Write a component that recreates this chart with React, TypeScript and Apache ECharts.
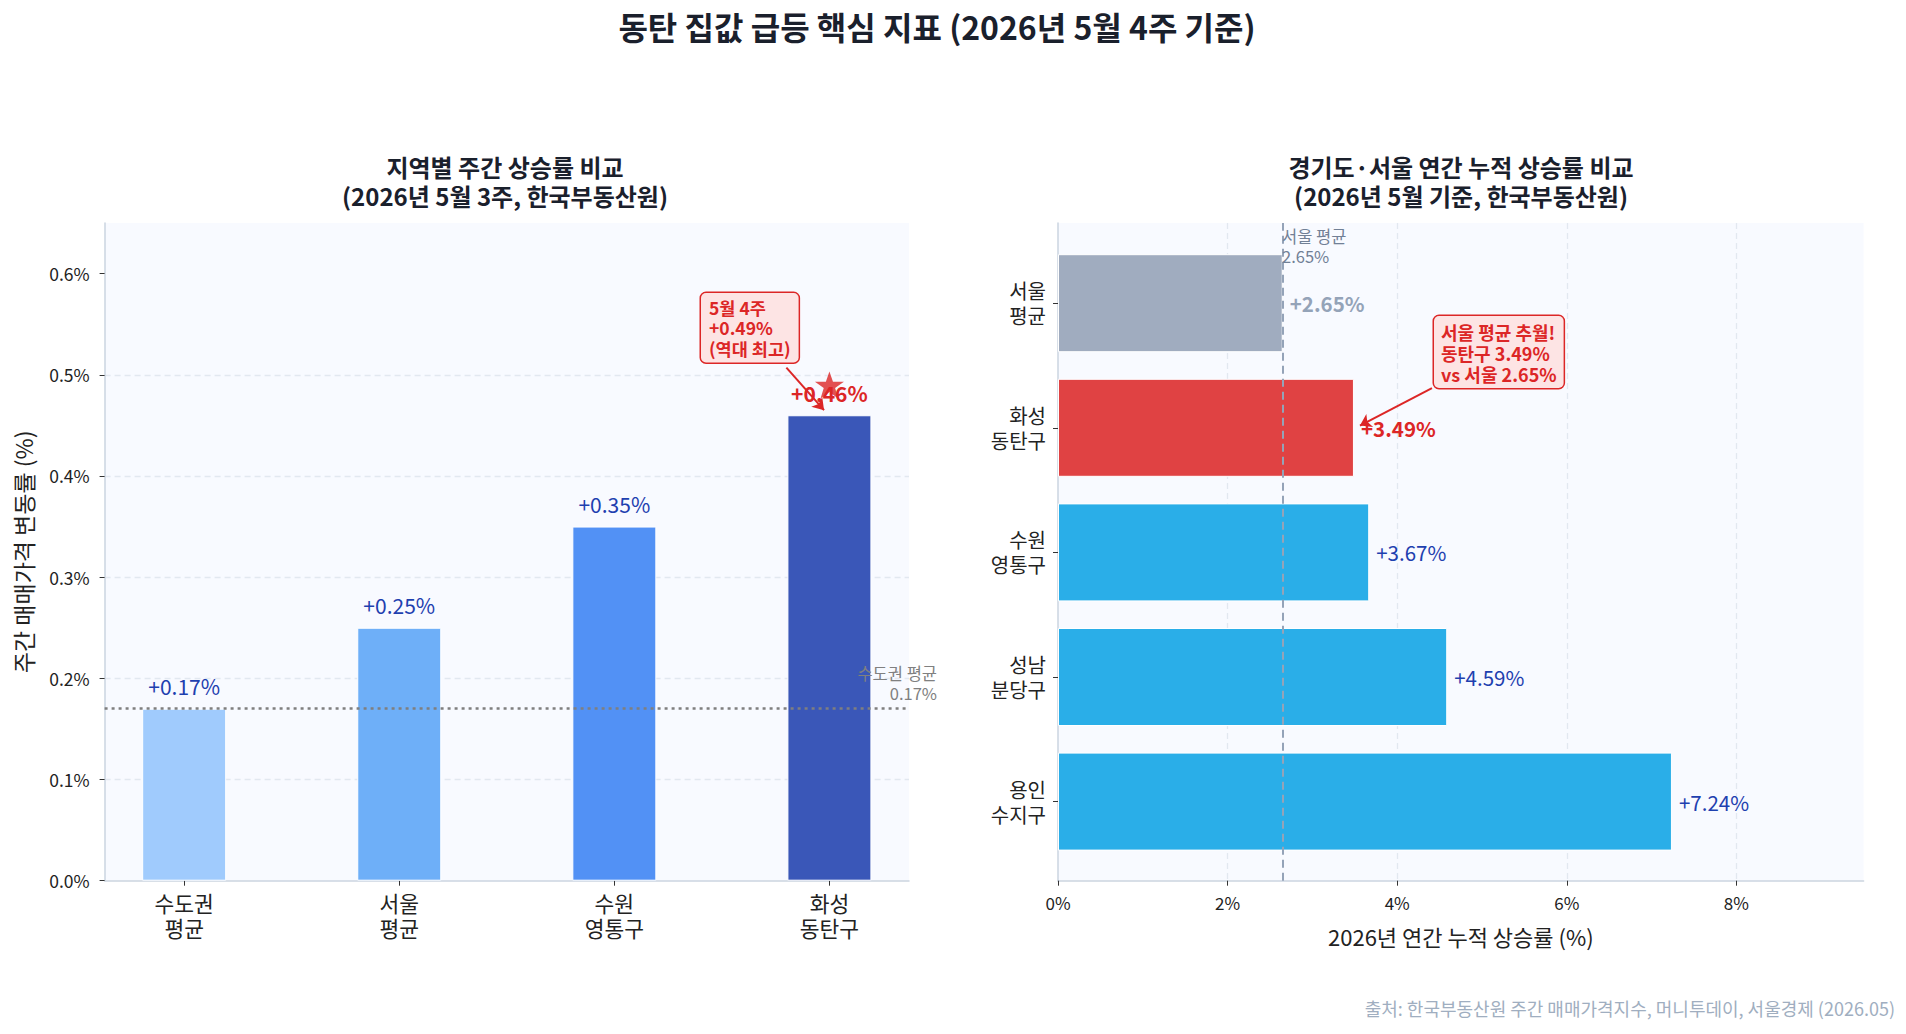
import React, { useEffect, useRef } from 'react';
import * as echarts from 'echarts';

const FONT = "'Noto Sans CJK KR', 'Noto Sans', sans-serif";

// 지역별 주간 상승률 (2026년 5월 3주, %)
const weeklyRegions = ['수도권\n평균', '서울\n평균', '수원\n영통구', '화성\n동탄구'];
const weeklyValues = [0.17, 0.25, 0.35, 0.46];
const weeklyColors = ['#a0cbfd', '#6eaff8', '#5291f5', '#3a57b8'];
const weeklyTicks = [0, 0.1, 0.2, 0.3, 0.4, 0.5, 0.6];
const metroAvg = 0.17;
const dongtanWeek4 = 0.49;

// 연간 누적 상승률 (2026년 5월 기준, %)
const annualRegions = ['용인\n수지구', '성남\n분당구', '수원\n영통구', '화성\n동탄구', '서울\n평균'];
const annualValues = [7.24, 4.59, 3.67, 3.49, 2.65];
const annualColors = ['#2aaee8', '#2aaee8', '#2aaee8', '#e04243', '#a0acbf'];
const seoulAvg = 2.65;

const RED = '#dc2626';
const BLUE_LABEL = '#1e40af';
const PLOT_BG = '#f8faff';
const GRID_LINE = '#e2e8f0';
const SPINE = '#cbd5e0';
const TICK = '#333333';

const STAR =
  'path://M50,0 L61.8,35.1 L98.1,35.1 L68.8,56.8 L79.4,91.9 L50,70.3 L20.6,91.9 L31.2,56.8 L1.9,35.1 L38.2,35.1 Z';

const categoryIndexLabel = (v: number) => {
  const i = Math.round(v);
  return Math.abs(v - i) < 1e-6 && i >= 0 && i < weeklyRegions.length ? weeklyRegions[i] : '';
};

function buildOption(): echarts.EChartsOption {
  const pct2 = (v: number) => '+' + v.toFixed(2) + '%';

  return {
    animation: false,
    backgroundColor: '#ffffff',
    textStyle: { fontFamily: FONT },
    grid: [
      // 왼쪽: 주간 상승률
      { left: 104.6, top: 223, width: 804.4, height: 657.7, show: true, backgroundColor: PLOT_BG, borderWidth: 0, containLabel: false, outerBoundsMode: 'none' } as any,
      // 오른쪽: 배경과 x축
      { left: 1058, top: 223, width: 805.6, height: 657.7, show: true, backgroundColor: PLOT_BG, borderWidth: 0, containLabel: false, outerBoundsMode: 'none' } as any,
      // 오른쪽: 막대
      { left: 1058, top: 240.9, width: 805.6, height: 623, show: false, containLabel: false, outerBoundsMode: 'none' } as any,
    ],
    xAxis: [
      {
        gridIndex: 0,
        type: 'value',
        min: -0.37,
        max: 3.37,
        axisLine: { show: true, onZero: false, lineStyle: { color: SPINE, width: 1.5 } },
        axisTick: { show: true, length: 5, lineStyle: { color: TICK }, customValues: [0, 1, 2, 3] } as any,
        axisLabel: {
          customValues: [0, 1, 2, 3],
          formatter: categoryIndexLabel,
          fontSize: 21.5,
          lineHeight: 25,
          color: '#222',
          margin: 9,
        } as any,
        splitLine: { show: false },
      },
      {
        gridIndex: 1,
        type: 'value',
        min: 0,
        max: 9.5,
        interval: 2,
        axisLine: { show: true, onZero: false, lineStyle: { color: SPINE, width: 1.5 } },
        axisTick: { show: true, length: 5, lineStyle: { color: TICK } },
        axisLabel: {
          formatter: (v: number) => v + '%',
          fontSize: 17,
          color: '#222',
          margin: 13,
          showMaxLabel: false,
        },
        splitLine: {
          show: true,
          showMinLine: false,
          showMaxLine: false,
          lineStyle: { color: GRID_LINE, width: 1.3, type: [6, 4] },
        } as any,
        name: '2026년 연간 누적 상승률 (%)',
        nameLocation: 'middle',
        nameGap: 44,
        nameTextStyle: { fontSize: 22, color: '#222' },
      },
      {
        gridIndex: 2,
        type: 'value',
        min: 0,
        max: 9.5,
        show: false,
      },
    ],
    yAxis: [
      {
        gridIndex: 0,
        type: 'value',
        min: 0,
        max: 0.65,
        interval: 0.1,
        axisLine: { show: true, onZero: false, lineStyle: { color: SPINE, width: 1.5 } },
        axisTick: { show: true, length: 5, lineStyle: { color: TICK }, customValues: weeklyTicks } as any,
        axisLabel: {
          customValues: weeklyTicks,
          formatter: (v: number) => v.toFixed(1) + '%',
          fontSize: 17.5,
          color: '#222',
          margin: 15,
        } as any,
        splitLine: {
          show: true,
          showMinLine: false,
          showMaxLine: false,
          lineStyle: { color: GRID_LINE, width: 1.3, type: [6, 4] },
        } as any,
        name: '주간 매매가격 변동률 (%)',
        nameLocation: 'middle',
        nameGap: 70,
        nameTextStyle: { fontSize: 23, color: '#222' },
      },
      {
        gridIndex: 1,
        type: 'value',
        min: 0,
        max: 1,
        axisLine: { show: true, onZero: false, lineStyle: { color: SPINE, width: 1.5 } },
        axisTick: { show: false },
        axisLabel: { show: false },
        splitLine: { show: false },
      },
      {
        gridIndex: 2,
        type: 'category',
        data: annualRegions,
        axisLine: { show: false },
        axisTick: { show: true, length: 5, alignWithLabel: true, lineStyle: { color: TICK } },
        axisLabel: { fontSize: 20, lineHeight: 25, color: '#222', margin: 12 },
        splitLine: { show: false },
      },
    ],
    series: [
      {
        type: 'bar',
        xAxisIndex: 0,
        yAxisIndex: 0,
        barWidth: 84,
        data: weeklyValues.map((v, i) => {
          const last = i === weeklyValues.length - 1;
          return {
            value: [i, v],
            itemStyle: { color: weeklyColors[i], borderColor: '#ffffff', borderWidth: 1 },
            label: last ? { color: RED, fontWeight: 'bold', fontSize: 21 } : undefined,
          };
        }),
        label: {
          show: true,
          position: 'top',
          distance: 12,
          fontSize: 21,
          color: BLUE_LABEL,
          formatter: (p: any) => pct2(p.value[1]),
        },
        markLine: {
          silent: true,
          symbol: 'none',
          label: { show: false },
          lineStyle: { color: '#7f7f7f', width: 2.5, type: [3, 4] },
          data: [{ yAxis: metroAvg }],
        },
        z: 2,
      },
      {
        // 5월 4주 동탄구 상승률 표시
        type: 'scatter',
        xAxisIndex: 0,
        yAxisIndex: 0,
        symbol: STAR,
        symbolSize: [29, 27],
        itemStyle: { color: RED },
        data: [[3, dongtanWeek4]],
        z: 5,
        markLine: {
          silent: true,
          symbol: ['none', 'arrow'],
          symbolSize: 11,
          label: { show: false },
          lineStyle: { color: RED, width: 2, type: 'solid' },
          data: [[{ coord: [2.8, 0.507] }, { coord: [2.975, 0.465] }]] as any,
        },
      },
      {
        type: 'bar',
        xAxisIndex: 2,
        yAxisIndex: 2,
        barWidth: 98,
        data: annualValues.map((v, i) => {
          const isSeoul = i === annualValues.length - 1;
          const isDongtan = i === 3;
          return {
            value: v,
            itemStyle: { color: annualColors[i], borderColor: '#ffffff', borderWidth: 1 },
            label: isSeoul
              ? { color: '#94a3b8', fontWeight: 'bold' }
              : isDongtan
              ? { color: RED, fontWeight: 'bold' }
              : undefined,
          };
        }),
        label: {
          show: true,
          position: 'right',
          distance: 7,
          fontSize: 20.5,
          color: BLUE_LABEL,
          formatter: (p: any) => pct2(p.value),
        },
      },
      {
        // 서울 평균 기준선
        type: 'line',
        xAxisIndex: 1,
        yAxisIndex: 1,
        data: [],
        markLine: {
          silent: true,
          symbol: 'none',
          label: { show: false },
          lineStyle: { color: '#94a3b8', width: 2, type: [8, 5] },
          data: [{ xAxis: seoulAvg }],
        },
      },
      {
        // 동탄구 추월 화살표
        type: 'line',
        xAxisIndex: 1,
        yAxisIndex: 1,
        data: [],
        z: 6,
        markLine: {
          silent: true,
          symbol: ['none', 'arrow'],
          symbolSize: 11,
          label: { show: false },
          lineStyle: { color: RED, width: 2, type: 'solid' },
          data: [[{ coord: [4.41, 0.749] }, { coord: [3.561, 0.692] }]] as any,
        },
      },
    ],
    graphic: [
      {
        type: 'text',
        x: 937,
        y: 26,
        style: {
          text: '동탄 집값 급등 핵심 지표 (2026년 5월 4주 기준)',
          font: `bold 32px ${FONT}`,
          fill: '#1a202c',
          textAlign: 'center',
          textVerticalAlign: 'middle',
        },
      },
      {
        type: 'text',
        x: 505,
        y: 181,
        style: {
          text: '지역별 주간 상승률 비교\n(2026년 5월 3주, 한국부동산원)',
          font: `bold 24px ${FONT}`,
          lineHeight: 29,
          fill: '#1a202c',
          textAlign: 'center',
          textVerticalAlign: 'middle',
        },
      },
      {
        type: 'text',
        x: 1461,
        y: 181,
        style: {
          text: '경기도·서울 연간 누적 상승률 비교\n(2026년 5월 기준, 한국부동산원)',
          font: `bold 24px ${FONT}`,
          lineHeight: 29,
          fill: '#1a202c',
          textAlign: 'center',
          textVerticalAlign: 'middle',
        },
      },
      {
        type: 'text',
        x: 937,
        y: 663,
        z: 10,
        style: {
          text: `수도권 평균\n${metroAvg.toFixed(2)}%`,
          font: `16.5px ${FONT}`,
          lineHeight: 20,
          fill: '#808080',
          textAlign: 'right',
          textVerticalAlign: 'top',
        },
      },
      {
        type: 'text',
        x: 1282,
        y: 226,
        z: 10,
        style: {
          text: `서울 평균\n${seoulAvg.toFixed(2)}%`,
          font: `16.5px ${FONT}`,
          lineHeight: 20,
          fill: '#718096',
          textAlign: 'left',
          textVerticalAlign: 'top',
        },
      },
      {
        type: 'text',
        x: 701,
        y: 293,
        z: 10,
        style: {
          text: `5월 4주\n+${dongtanWeek4.toFixed(2)}%\n(역대 최고)`,
          font: `bold 17.5px ${FONT}`,
          lineHeight: 20.5,
          fill: RED,
          backgroundColor: '#fde4e4',
          borderColor: RED,
          borderWidth: 1.5,
          borderRadius: 5,
          padding: [4, 8, 4, 8],
          textAlign: 'left',
          textVerticalAlign: 'top',
        },
      },
      {
        type: 'text',
        x: 1434,
        y: 316,
        z: 10,
        style: {
          text: `서울 평균 추월!\n동탄구 ${annualValues[3].toFixed(2)}%\nvs 서울 ${seoulAvg.toFixed(2)}%`,
          font: `bold 18px ${FONT}`,
          lineHeight: 21,
          fill: RED,
          backgroundColor: '#fde4e4',
          borderColor: RED,
          borderWidth: 1.5,
          borderRadius: 5,
          padding: [5, 7, 4, 7],
          textAlign: 'left',
          textVerticalAlign: 'top',
        },
      },
      {
        type: 'text',
        x: 1895,
        y: 1008,
        style: {
          text: '출처: 한국부동산원 주간 매매가격지수, 머니투데이, 서울경제 (2026.05)',
          font: `18px ${FONT}`,
          fill: '#a0aec0',
          textAlign: 'right',
          textVerticalAlign: 'middle',
        },
      },
    ],
  } as echarts.EChartsOption;
}

export default function App() {
  const ref = useRef<HTMLDivElement>(null);

  useEffect(() => {
    const el = ref.current;
    if (!el) return;
    const chart = echarts.init(el, null, { renderer: 'svg' });
    chart.setOption(buildOption());
    return () => chart.dispose();
  }, []);

  return (
    <div
      ref={ref}
      style={{ position: 'fixed', left: 0, top: 0, width: 1906, height: 1034, background: '#ffffff' }}
    />
  );
}
